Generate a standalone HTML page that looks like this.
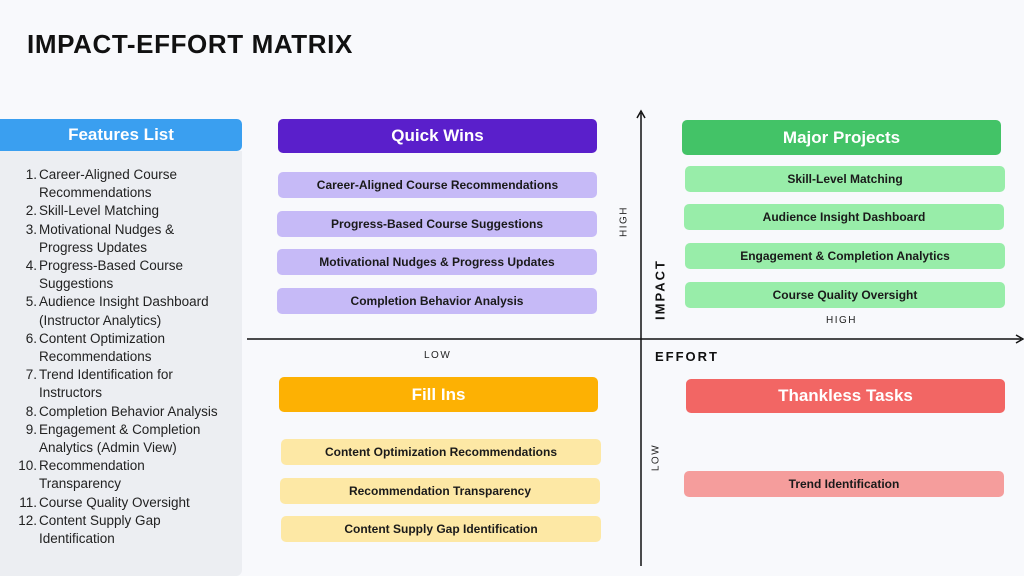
<!DOCTYPE html>
<html><head><style>
body{margin:0;width:1024px;height:576px;background:#f8f9fc;font-family:"Liberation Sans",sans-serif;position:relative;overflow:hidden}
.a{position:absolute}
.h{position:absolute;color:#fff;font-weight:bold;font-size:17px;display:flex;align-items:center;justify-content:center;border-radius:5px}
.i{position:absolute;color:#1a1a1a;font-weight:bold;font-size:12px;display:flex;align-items:center;justify-content:center;border-radius:5px}
.q{background:#c6baf7}.f{background:#fde8a5}.m{background:#98eda9}
.lab{position:absolute;font-size:10px;letter-spacing:1.5px;color:#222}
ol{margin:0;padding:0;list-style:none}
ol li{position:relative;padding-left:39px;font-size:13.5px;line-height:18.2px;color:#222}
ol li span{position:absolute;left:0;width:37px;text-align:right}
</style></head><body>
<div class="a" style="left:27px;top:29px;font-size:26px;font-weight:bold;letter-spacing:0.6px;color:#111">IMPACT-EFFORT MATRIX</div>
<div class="h" style="left:0;top:119px;width:242px;height:32px;background:#3a9ff0;border-radius:0 5px 5px 0">Features List</div>
<div class="a" style="left:0;top:151px;width:242px;height:425px;background:#eceef2;border-radius:0 0 6px 0"></div>
<ol class="a" style="left:0;top:166px;width:218px">
<li><span>1.</span>Career-Aligned Course Recommendations</li>
<li><span>2.</span>Skill-Level Matching</li>
<li><span>3.</span>Motivational Nudges &amp; Progress Updates</li>
<li><span>4.</span>Progress-Based Course Suggestions</li>
<li><span>5.</span>Audience Insight Dashboard (Instructor Analytics)</li>
<li><span>6.</span>Content Optimization Recommendations</li>
<li><span>7.</span>Trend Identification for Instructors</li>
<li><span>8.</span>Completion Behavior Analysis</li>
<li><span>9.</span>Engagement &amp; Completion Analytics (Admin View)</li>
<li><span>10.</span>Recommendation Transparency</li>
<li><span>11.</span>Course Quality Oversight</li>
<li><span>12.</span>Content Supply Gap Identification</li>
</ol>
<svg class="a" style="left:0;top:0" width="1024" height="576">
<line x1="641" y1="566" x2="641" y2="113" stroke="#111" stroke-width="1.5"/>
<path d="M637,118 L641,111 L645,118" fill="none" stroke="#111" stroke-width="1.5"/>
<line x1="247" y1="339" x2="1021" y2="339" stroke="#111" stroke-width="1.5"/>
<path d="M1016,335 L1023,339 L1016,343" fill="none" stroke="#111" stroke-width="1.5"/>
</svg>
<div class="h" style="left:278px;top:119px;width:319px;height:34px;background:#5a1fcb">Quick Wins</div>
<div class="i q" style="left:278px;top:172px;width:319px;height:26px">Career-Aligned Course Recommendations</div>
<div class="i q" style="left:277px;top:211px;width:320px;height:26px">Progress-Based Course Suggestions</div>
<div class="i q" style="left:277px;top:249px;width:320px;height:26px">Motivational Nudges &amp; Progress Updates</div>
<div class="i q" style="left:277px;top:288px;width:320px;height:26px">Completion Behavior Analysis</div>
<div class="h" style="left:682px;top:120px;width:319px;height:35px;background:#43c367">Major Projects</div>
<div class="i m" style="left:685px;top:166px;width:320px;height:26px">Skill-Level Matching</div>
<div class="i m" style="left:684px;top:204px;width:320px;height:26px">Audience Insight Dashboard</div>
<div class="i m" style="left:685px;top:243px;width:320px;height:26px">Engagement &amp; Completion Analytics</div>
<div class="i m" style="left:685px;top:282px;width:320px;height:26px">Course Quality Oversight</div>
<div class="h" style="left:279px;top:377px;width:319px;height:35px;background:#fdb103">Fill Ins</div>
<div class="i f" style="left:281px;top:439px;width:320px;height:26px">Content Optimization Recommendations</div>
<div class="i f" style="left:280px;top:478px;width:320px;height:26px">Recommendation Transparency</div>
<div class="i f" style="left:281px;top:516px;width:320px;height:26px">Content Supply Gap Identification</div>
<div class="h" style="left:686px;top:379px;width:319px;height:34px;background:#f26664">Thankless Tasks</div>
<div class="i" style="left:684px;top:471px;width:320px;height:26px;background:#f59d9c">Trend Identification</div>
<div class="lab" style="left:424px;top:350px">LOW</div>
<div class="lab" style="left:826px;top:315px">HIGH</div>
<div class="a" style="left:655px;top:349px;font-size:13px;font-weight:bold;letter-spacing:2px;color:#111">EFFORT</div>
<div class="lab" style="left:606px;top:216px;transform:rotate(-90deg);transform-origin:center;width:36px;text-align:center">HIGH</div>
<div class="lab" style="left:641px;top:452px;transform:rotate(-90deg);width:30px;text-align:center">LOW</div>
<div class="a" style="left:620px;top:282px;width:80px;text-align:center;transform:rotate(-90deg);font-size:13px;font-weight:bold;letter-spacing:2px;color:#111">IMPACT</div>
</body></html>
